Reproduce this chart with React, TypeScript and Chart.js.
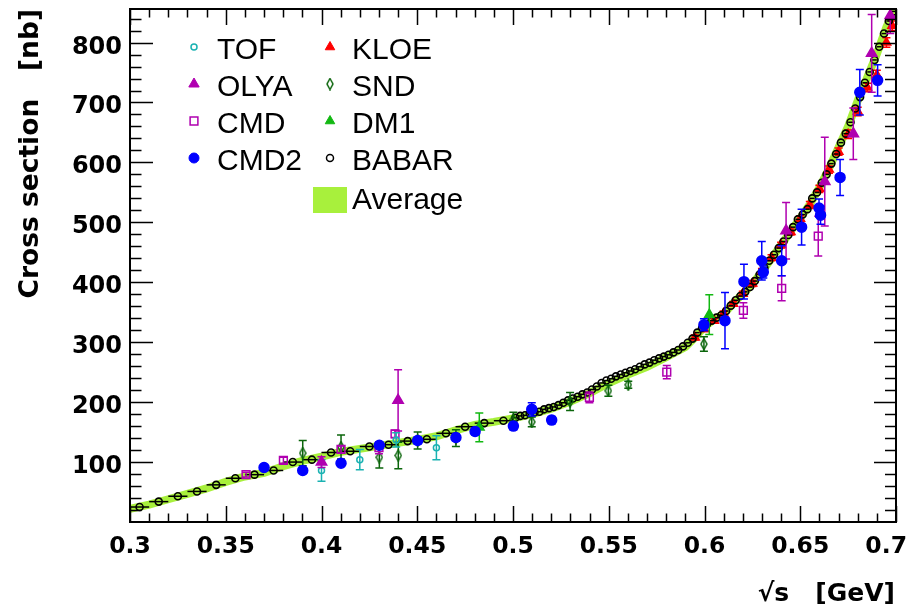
import React, { useEffect, useRef } from "react";
import { Chart, registerables } from "chart.js";
import { drawPoint } from "chart.js/helpers";

Chart.register(...registerables);

// ---------- axis ranges & tick labels ----------
const X_MIN = 0.3;
const X_MAX = 0.7;
const Y_MIN = 0;
const Y_MAX = 856;
const xTickValues = [0.3, 0.35, 0.4, 0.45, 0.5, 0.55, 0.6, 0.65, 0.7];
const xTickLabels = ["0.3", "0.35", "0.4", "0.45", "0.5", "0.55", "0.6", "0.65", "0.7"];
const yTickValues = [100, 200, 300, 400, 500, 600, 700, 800];
const yTickLabels = ["100", "200", "300", "400", "500", "600", "700", "800"];
const xTitle = "\u221As   [GeV]";
const yTitle = "Cross section   [nb]";

// ---------- Average band ----------
const avgX = [0.3, 0.31, 0.32, 0.33, 0.34, 0.35, 0.36, 0.37, 0.38, 0.39, 0.4, 0.41, 0.42, 0.43, 0.44, 0.45, 0.46, 0.47, 0.48, 0.49, 0.5, 0.51, 0.52, 0.53, 0.54, 0.55, 0.56, 0.57, 0.58, 0.59, 0.595, 0.6, 0.605, 0.61, 0.615, 0.62, 0.625, 0.63, 0.635, 0.64, 0.645, 0.65, 0.655, 0.66, 0.665, 0.67, 0.675, 0.68, 0.685, 0.69, 0.695, 0.7];
const avgY = [22, 29, 38, 47, 56, 67, 76, 82, 93, 102, 109, 117, 122, 127, 132, 137, 143, 153, 162, 167, 173, 180, 189, 201, 215, 232, 246, 259, 275, 292, 308, 326, 338, 347, 365, 381, 397, 418, 440, 462, 485, 507, 530, 558, 590, 625, 660, 703, 742, 781, 826, 860];

// ---------- BABAR ----------
const babarLowX = [0.305, 0.315, 0.325, 0.335, 0.345, 0.355, 0.365, 0.375, 0.385, 0.395, 0.405, 0.415, 0.425, 0.435, 0.445, 0.455, 0.465, 0.475, 0.485, 0.495];
const babarLowY = [25, 34, 43, 51, 62, 73, 79, 86, 100, 104, 116, 118, 126, 129, 135, 138, 148, 159, 165, 169];
const babarLowHalfBin = 0.005;
const babarMidX = [0.50125, 0.50375, 0.50625, 0.50875, 0.51125, 0.51375, 0.51625, 0.51875, 0.52125, 0.52375, 0.52625, 0.52875, 0.53125, 0.53375, 0.53625, 0.53875, 0.54125, 0.54375, 0.54625, 0.54875, 0.55125, 0.55375, 0.55625, 0.55875, 0.56125, 0.56375, 0.56625, 0.56875, 0.57125, 0.57375, 0.57625, 0.57875, 0.58125, 0.58375, 0.58625, 0.58875, 0.59125, 0.59375, 0.59625, 0.59875];
const babarMidY = [174, 177, 178, 181, 183, 184, 188, 190, 192, 195, 199, 203, 206, 209, 213, 216, 221, 226, 232, 236, 239, 243, 246, 249, 252, 255, 259, 263, 266, 270, 273, 276, 279, 283, 287, 293, 299, 306, 316, 324];
const babarMidHalfBin = 0.00125;
const babarHighX = [0.60125, 0.60375, 0.60625, 0.60875, 0.61125, 0.61375, 0.61625, 0.61875, 0.62125, 0.62375, 0.62625, 0.62875, 0.63125, 0.63375, 0.63625, 0.63875, 0.64125, 0.64375, 0.64625, 0.64875, 0.65125, 0.65375, 0.65625, 0.65875, 0.66125, 0.66375, 0.66625, 0.66875, 0.67125, 0.67375, 0.67625, 0.67875, 0.68125, 0.68375, 0.68625, 0.68875, 0.69125, 0.69375, 0.69625, 0.69875];
const babarHighY = [330, 336, 341, 345, 352, 361, 370, 377, 384, 392, 402, 413, 424, 436, 446, 457, 468, 479, 492, 505, 513, 522, 540, 550, 566, 580, 598, 614, 633, 648, 667, 690, 709, 733, 751, 771, 793, 815, 836, 852];
const babarHighHalfBin = 0.00125;

// ---------- other experiments ----------
const tofX = [0.4, 0.42, 0.439, 0.46];
const tofY = [86, 104, 137, 124];
const tofErr = [18, 17, 12, 20];

const olyaX = [0.4, 0.44, 0.6426, 0.6628, 0.6777, 0.6873, 0.697];
const olyaY = [100, 203, 486, 568, 648, 782, 845];
const olyaErr = [9, 51, 47, 74, 43, 65, 30];

const cmdX = [0.3606, 0.3801, 0.4102, 0.43, 0.4384, 0.5399, 0.5803, 0.6203, 0.6403, 0.6594];
const cmdY = [79, 103, 121, 124, 147, 208, 250, 353, 390, 477];
const cmdErr = [4, 5, 6, 10, 6, 9, 11, 13, 21, 33];

const cmd2X = [0.37, 0.3902, 0.4102, 0.4302, 0.4502, 0.4702, 0.4802, 0.5002, 0.5098, 0.5202, 0.5997, 0.6107, 0.6206, 0.6299, 0.6307, 0.6403, 0.6507, 0.6598, 0.6606, 0.6708, 0.6811, 0.6904];
const cmd2Y = [91, 86, 98, 128, 136, 141, 151, 160, 188, 170, 329, 336, 401, 436, 417, 436, 492, 524, 512, 575, 717, 737];
const cmd2Err = [4, 5, 5, 5, 6, 6, 6, 6, 11, 6, 10, 47, 29, 32, 10, 25, 30, 15, 15, 30, 38, 26];

const kloeX = [0.595, 0.6, 0.605, 0.61, 0.615, 0.62, 0.625, 0.63, 0.635, 0.64, 0.645, 0.65, 0.655, 0.66, 0.665, 0.67, 0.675, 0.68, 0.685, 0.69, 0.695, 0.698];
const kloeY = [308, 322, 336, 348, 364, 381, 398, 418, 441, 462, 484, 506, 529, 556, 588, 618, 647, 685, 725, 746, 800, 828];
const kloeErr = [4, 4, 4, 4, 4, 4, 5, 5, 5, 5, 5, 5, 6, 6, 6, 6, 7, 7, 7, 8, 8, 8];

const sndX = [0.3902, 0.4102, 0.4302, 0.4401, 0.4502, 0.4702, 0.5002, 0.5098, 0.5298, 0.5498, 0.5602, 0.5997];
const sndY = [115, 125, 108, 111, 136, 140, 171, 167, 201, 219, 229, 297];
const sndErr = [21, 20, 18, 22, 14, 14, 12, 8, 15, 9, 6, 12];

const dm1X = [0.4824, 0.6025];
const dm1Y = [158, 346];
const dm1Err = [24, 33];

// ---------- colours ----------
const C_AVG = "#a8f03c";
const C_TOF = "#1ab2b2";
const C_MAG = "#b000b0";
const C_BLUE = "#0000ff";
const C_RED = "#ff0000";
const C_SND = "#0b650b";
const C_DM1 = "#12b812";
const C_BLACK = "#000000";
const NONE = "rgba(0,0,0,0)";

const pts = (xs: number[], ys: number[]) => xs.map((x, i) => ({ x, y: ys[i] }));

function makeDiamond(color: string) {
  const c = document.createElement("canvas");
  c.width = 8;
  c.height = 13;
  const g = c.getContext("2d")!;
  g.strokeStyle = color;
  g.lineWidth = 1.5;
  g.beginPath();
  g.moveTo(4, 1);
  g.lineTo(7, 6.5);
  g.lineTo(4, 12);
  g.lineTo(1, 6.5);
  g.closePath();
  g.stroke();
  return c;
}

const errorBarPlugin = {
  id: "errorBars",
  beforeDatasetDraw(chart: any, args: any) {
    const ds = chart.data.datasets[args.index];
    if (!ds || (!ds.yErrs && !ds.xErrs)) return;
    const { ctx, chartArea, scales } = chart;
    const xs = scales.x;
    const ys = scales.y;
    ctx.save();
    ctx.beginPath();
    ctx.rect(chartArea.left, chartArea.top, chartArea.right - chartArea.left, chartArea.bottom - chartArea.top);
    ctx.clip();
    ctx.strokeStyle = ds.errColor;
    ctx.lineWidth = 1.5;
    ds.data.forEach((p: any, i: number) => {
      const px = xs.getPixelForValue(p.x);
      const py = ys.getPixelForValue(p.y);
      ctx.beginPath();
      if (ds.yErrs) {
        const e = ds.yErrs[i];
        const y1 = ys.getPixelForValue(p.y + e);
        const y2 = ys.getPixelForValue(p.y - e);
        ctx.moveTo(px, y1);
        ctx.lineTo(px, y2);
        ctx.moveTo(px - 4, y1);
        ctx.lineTo(px + 4, y1);
        ctx.moveTo(px - 4, y2);
        ctx.lineTo(px + 4, y2);
      }
      if (ds.xErrs) {
        const e = ds.xErrs[i];
        ctx.moveTo(xs.getPixelForValue(p.x - e), py);
        ctx.lineTo(xs.getPixelForValue(p.x + e), py);
      }
      ctx.stroke();
    });
    ctx.restore();
  },
};

function makeFramePlugin(entries: any[]) {
  return {
    id: "rootFrame",
    afterDatasetsDraw(chart: any) {
      const { ctx, chartArea, scales } = chart;
      const { left, right, top, bottom } = chartArea;
      const xs = scales.x;
      const ys = scales.y;
      ctx.save();
      ctx.strokeStyle = "#000";
      ctx.lineWidth = 1.5;
      ctx.beginPath();
      for (let k = 0; k <= 40; k++) {
        const v = X_MIN + k * 0.01;
        const px = Math.round(xs.getPixelForValue(v)) + 0.5;
        const len = k % 5 === 0 ? 16 : 8.5;
        ctx.moveTo(px, bottom);
        ctx.lineTo(px, bottom - len);
        ctx.moveTo(px, top);
        ctx.lineTo(px, top + len);
      }
      for (let v = 20; v < Y_MAX; v += 20) {
        const py = Math.round(ys.getPixelForValue(v)) + 0.5;
        const major = v % 100 === 0;
        ctx.moveTo(left, py);
        ctx.lineTo(left + (major ? 23 : 11.5), py);
        ctx.moveTo(right, py);
        ctx.lineTo(right - (major ? 22 : 11), py);
      }
      ctx.stroke();
      ctx.lineWidth = 2;
      ctx.strokeRect(left, top, right - left, bottom - top);

      ctx.fillStyle = "#000";
      ctx.font = 'bold 24px "DejaVu Sans"';
      ctx.textAlign = "right";
      ctx.textBaseline = "alphabetic";
      yTickValues.forEach((v, i) => {
        const py = ys.getPixelForValue(v);
        ctx.fillText(yTickLabels[i], left - 8, py + 11);
      });
      ctx.font = 'bold 23.5px "DejaVu Sans"';
      ctx.textAlign = "center";
      xTickValues.forEach((v, i) => {
        let px = xs.getPixelForValue(v);
        const w = ctx.measureText(xTickLabels[i]).width;
        if (px + w / 2 > chart.width - 9) px = chart.width - 9 - w / 2;
        ctx.fillText(xTickLabels[i], px, bottom + 31);
      });
      ctx.restore();
    },
    afterDraw(chart: any) {
      const { ctx, chartArea } = chart;
      ctx.save();
      ctx.fillStyle = "#000";
      ctx.font = 'bold 25px "DejaVu Sans"';
      ctx.textAlign = "right";
      ctx.textBaseline = "alphabetic";
      ctx.fillText(xTitle, chartArea.right - 1, 601);
      ctx.save();
      ctx.translate(38, 9);
      ctx.rotate(-Math.PI / 2);
      ctx.font = 'bold 26.5px "DejaVu Sans"';
      ctx.textAlign = "right";
      ctx.fillText(yTitle, 0, 0);
      ctx.restore();

      const rows = [59, 96, 133, 170];
      const col1 = { mx: 194, tx: 217 };
      const col2 = { mx: 330, tx: 352 };
      ctx.font = '30px "Liberation Sans"';
      ctx.textAlign = "left";
      entries.forEach((e: any, i: number) => {
        const col = i < 4 ? col1 : col2;
        const base = rows[i % 4];
        const my = base - 12;
        ctx.save();
        ctx.fillStyle = e.fill;
        ctx.strokeStyle = e.stroke;
        ctx.lineWidth = e.borderWidth;
        drawPoint(ctx, { pointStyle: e.style, radius: e.radius, borderWidth: e.borderWidth, rotation: 0 } as any, col.mx, my);
        ctx.restore();
        ctx.fillStyle = "#000";
        ctx.fillText(e.label, col.tx, base);
      });
      ctx.fillStyle = C_AVG;
      ctx.fillRect(313, 187, 34, 26);
      ctx.fillStyle = "#000";
      ctx.fillText("Average", col2.tx, 209);
      ctx.restore();
    },
  };
}

export default function App() {
  const canvasRef = useRef<HTMLCanvasElement | null>(null);

  useEffect(() => {
    const canvas = canvasRef.current;
    if (!canvas) return;
    const sndImg = makeDiamond(C_SND);

    const scatter = (label: string, xs: number[], ys: number[], errs: number[], style: any, radius: number, color: string, filled: boolean, order: number) => ({
      type: "scatter" as const,
      label,
      data: pts(xs, ys),
      pointStyle: style,
      pointRadius: radius,
      pointBorderColor: color,
      pointBackgroundColor: filled ? color : NONE,
      pointBorderWidth: 1.5,
      borderColor: color,
      backgroundColor: filled ? color : NONE,
      showLine: false,
      yErrs: errs,
      errColor: color,
      order,
    });

    const babarData = [...pts(babarLowX, babarLowY), ...pts(babarMidX, babarMidY), ...pts(babarHighX, babarHighY)];
    const babarXErrs = [
      ...babarLowX.map(() => babarLowHalfBin),
      ...babarMidX.map(() => babarMidHalfBin),
      ...babarHighX.map(() => babarHighHalfBin),
    ];

    const datasets: any[] = [
      {
        type: "line",
        label: "Average",
        data: pts(avgX, avgY),
        borderColor: C_AVG,
        borderWidth: 8,
        pointRadius: 0,
        fill: false,
        tension: 0,
        order: 10,
      },
      scatter("KLOE", kloeX, kloeY, kloeErr, "triangle", 5, C_RED, true, 9),
      {
        type: "scatter",
        label: "BABAR",
        data: babarData,
        pointStyle: "circle",
        pointRadius: 3.5,
        pointBorderColor: C_BLACK,
        pointBackgroundColor: NONE,
        pointBorderWidth: 1.6,
        borderColor: C_BLACK,
        backgroundColor: NONE,
        xErrs: babarXErrs,
        errColor: C_BLACK,
        order: 8,
      },
      scatter("SND", sndX, sndY, sndErr, sndImg, 5, C_SND, false, 7),
      scatter("DM1", dm1X, dm1Y, dm1Err, "triangle", 5.5, C_DM1, true, 6),
      scatter("CMD", cmdX, cmdY, cmdErr, "rect", 5.5, C_MAG, false, 5),
      scatter("TOF", tofX, tofY, tofErr, "circle", 3, C_TOF, false, 4),
      scatter("OLYA", olyaX, olyaY, olyaErr, "triangle", 6, C_MAG, true, 3),
      scatter("CMD2", cmd2X, cmd2Y, cmd2Err, "circle", 5, C_BLUE, true, 2),
    ];

    const legendEntries = [
      { label: "TOF", style: "circle", radius: 3, fill: NONE, stroke: C_TOF, borderWidth: 1.5 },
      { label: "OLYA", style: "triangle", radius: 6, fill: C_MAG, stroke: C_MAG, borderWidth: 1 },
      { label: "CMD", style: "rect", radius: 5.5, fill: NONE, stroke: C_MAG, borderWidth: 1.5 },
      { label: "CMD2", style: "circle", radius: 5, fill: C_BLUE, stroke: C_BLUE, borderWidth: 1 },
      { label: "KLOE", style: "triangle", radius: 5.5, fill: C_RED, stroke: C_RED, borderWidth: 1 },
      { label: "SND", style: sndImg, radius: 5, fill: NONE, stroke: C_SND, borderWidth: 1.5 },
      { label: "DM1", style: "triangle", radius: 5.5, fill: C_DM1, stroke: C_DM1, borderWidth: 1 },
      { label: "BABAR", style: "circle", radius: 3.5, fill: NONE, stroke: C_BLACK, borderWidth: 1.5 },
    ];

    const chart: any = new Chart(canvas, {
      type: "scatter",
      data: { datasets },
      options: {
        animation: false,
        responsive: false,
        maintainAspectRatio: false,
        events: [],
        layout: { padding: { left: 130, right: 20, top: 9, bottom: 85 } },
        scales: {
          x: { type: "linear", min: X_MIN, max: X_MAX, display: false },
          y: { type: "linear", min: Y_MIN, max: Y_MAX, display: false },
        },
        plugins: { legend: { display: false }, tooltip: { enabled: false } },
      },
      plugins: [errorBarPlugin, makeFramePlugin(legendEntries)],
    } as any);

    return () => chart.destroy();
  }, []);

  return (
    <div style={{ position: "fixed", left: 0, top: 0, width: 916, height: 607, background: "#fff" }}>
      <canvas ref={canvasRef} width={916} height={607} style={{ display: "block", width: 916, height: 607 }} />
    </div>
  );
}
